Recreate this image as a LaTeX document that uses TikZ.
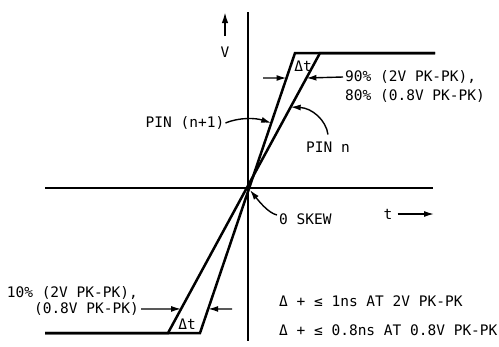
\documentclass[tikz,border=0pt]{standalone}
\usepackage{fontspec}
\setmainfont{DejaVu Sans Mono}
\usetikzlibrary{arrows.meta,calc}
\begin{document}
\begin{tikzpicture}[x=1bp,y=-1bp,
  lbl/.style={inner sep=0pt, font=\fontsize{14.5bp}{17bp}\selectfont},
  wave/.style={line width=2.5bp, line join=miter},
  axis/.style={line width=1.6bp},
  dim/.style={line width=1.4bp,-{Latex[length=10bp,width=6bp]}},
]
\useasboundingbox (0,0) rectangle (499,346);
% axes
\coordinate (vtop) at (248,12);
\coordinate (vbot) at (248,341);
\coordinate (hl) at (45,188);
\coordinate (hr) at (433,188);
\draw[axis] (vtop) -- (vbot);
\draw[axis] (hl) -- (hr);
% waveforms
\coordinate (A1) at (295,53);
\coordinate (B1) at (200,333);
\coordinate (A2) at (320,53);
\coordinate (B2) at (168,333);
\coordinate (TR) at (435,53);
\coordinate (BL) at (45,333);
\draw[wave] (TR) -- (A1) -- (B1) -- (BL);
\draw[wave] (TR) -- (A2) -- (B2) -- (BL);
% top dimension
\coordinate (d1a) at (263,78);
\node[lbl,anchor=west] (t90) at (345,77) {90\% (2V PK-PK),};
\node[lbl,anchor=west] (t80) at (345,96) {80\% (0.8V PK-PK)};
\draw[dim] (d1a) -- ($(A1)!0.0893!(B1)$);
\draw[dim] ([xshift=-2bp]t90.west) -- ($(A2)!0.0893!(B2)$);
\node[lbl] (dt1) at (303,66) {Δt};
% bottom dimension
\node[lbl,anchor=east] (t10) at (138,293) {10\% (2V PK-PK),};
\node[lbl,anchor=east] (t08) at (139,309) {(0.8V PK-PK)};
\coordinate (d2b) at (232,309);
\draw[dim] ([xshift=2bp]t08.east) -- ($(A2)!0.914!(B2)$);
\draw[dim] (d2b) -- ($(A1)!0.914!(B1)$);
\node[lbl] (dt2) at (187,324) {Δt};
% V axis label
\coordinate (va) at (225,36);
\coordinate (vb) at (225,12);
\draw[line width=1.8bp,-{Latex[length=11bp,width=6.5bp]}] (va) -- (vb);
\node[lbl] (V) at (225,52) {V};
% t axis label
\node[lbl] (t) at (388,214) {t};
\coordinate (tend) at (434,214);
\draw[dim] ([xshift=5bp]t.east) -- (tend);
% pin labels
\node[lbl] (pn1) at (185,123) {PIN (n+1)};
\draw[dim] ([xshift=1bp]pn1.east) .. controls (240,117) and (256,118) .. ($(A1)!0.25!(B1)$);
\node[lbl] (pn) at (328,147) {PIN n};
\draw[dim] ([yshift=7bp]pn.north) .. controls (326,120) and (312,108) .. ($(A2)!0.193!(B2)$);
% skew
\node[lbl,anchor=west] (skew) at (279,219) {0 SKEW};
\draw[dim] ([xshift=-2bp,yshift=4bp]skew.west) .. controls (268,213) and (258,200) .. (250,190);
% notes
\node[lbl,anchor=west] (r1) at (279,301) {Δ + ≤ 1ns AT 2V PK-PK};
\node[lbl,anchor=west] (r2) at (279,330) {Δ + ≤ 0.8ns AT 0.8V PK-PK};
\end{tikzpicture}
\end{document}
